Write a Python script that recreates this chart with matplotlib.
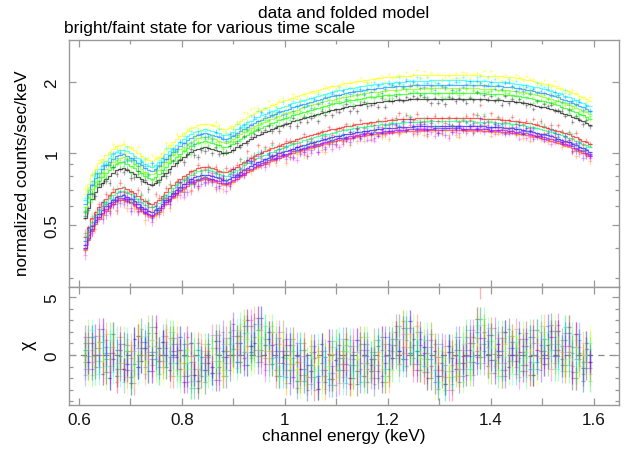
import numpy as np
import matplotlib
matplotlib.use('Agg')
import matplotlib.pyplot as plt
from matplotlib.ticker import FixedLocator, MultipleLocator, FuncFormatter, NullFormatter

plt.rcParams['font.family'] = ['Liberation Sans', 'DejaVu Sans']

# channel grid shared by all spectra (keV)
e_lo, e_hi, n_chan = 0.608, 1.596, 144

# folded model of the black spectrum, counts/sec/keV in each channel
model_ref = [
    0.535, 0.590, 0.642, 0.685, 0.720, 0.750, 0.778, 0.805, 0.830, 0.850, 0.864, 0.868,
    0.855, 0.838, 0.818, 0.798, 0.777, 0.757, 0.742, 0.738, 0.750, 0.770, 0.800, 0.830,
    0.858, 0.886, 0.912, 0.940, 0.965, 0.990, 1.012, 1.030, 1.045, 1.056, 1.060, 1.055,
    1.045, 1.034, 1.020, 1.005, 1.002, 1.015, 1.035, 1.060, 1.085, 1.108, 1.132, 1.153,
    1.173, 1.193, 1.211, 1.229, 1.247, 1.264, 1.282, 1.300, 1.316, 1.332, 1.347, 1.363,
    1.380, 1.396, 1.411, 1.425, 1.438, 1.452, 1.466, 1.480, 1.494, 1.507, 1.520, 1.532,
    1.543, 1.554, 1.565, 1.576, 1.586, 1.596, 1.605, 1.614, 1.623, 1.630, 1.637, 1.644,
    1.650, 1.656, 1.661, 1.666, 1.671, 1.675, 1.679, 1.683, 1.686, 1.689, 1.692, 1.694,
    1.696, 1.698, 1.699, 1.700, 1.700, 1.701, 1.701, 1.701, 1.701, 1.700, 1.700, 1.699,
    1.698, 1.697, 1.695, 1.693, 1.691, 1.688, 1.685, 1.682, 1.679, 1.676, 1.672, 1.667,
    1.662, 1.656, 1.649, 1.641, 1.632, 1.622, 1.611, 1.600, 1.588, 1.575, 1.562, 1.548,
    1.533, 1.518, 1.502, 1.485, 1.467, 1.448, 1.428, 1.407, 1.386, 1.365, 1.344, 1.322,
]

# spectra in plotting order, xspec colour index order
names = ['black', 'red', 'green', 'blue', 'cyan', 'magenta',
         'yellow', 'orange', 'chartreuse', 'springgreen', 'azure', 'blueviolet']
colors = [(0, 0, 0), (1, 0, 0), (0, 1, 0), (0, 0, 1), (0, 1, 1), (1, 0, 1),
          (1, 1, 0), (1, 0.5, 0), (0.5, 1, 0), (0, 1, 0.5), (0, 0.5, 1), (0.5, 0, 1)]
# normalisation of each spectrum relative to the black one
norm = [1.000, 0.830, 1.060, 0.769, 1.193, 0.739,
        1.260, 0.735, 1.108, 0.804, 1.145, 0.749]

# fractional error at 1 count/sec/keV
err_frac = 0.028

# mean residual, one value per 3 channels
chi_trend = [0.2, 0.3, -0.1, -0.4, -0.5, 0.3, 0.5, 0.3, 0.1, -0.4, -0.9, -1.0,
             -0.2, 0.1, 0.8, 1.1, 1.3, 0.6, 0.1, -0.5, -0.9, -1.1, -1.0, -0.7,
             -0.5, -0.6, -0.4, -0.6, -0.4, 0.6, 1.0, 0.6, -0.1, -1.0, -1.1, -0.4,
             0.2, 1.2, 0.4, 0.1, 0.3, 0.0, 0.2, 0.6, 0.7, 0.5, -0.1, -0.3]

# scatter of each spectrum about the mean residual, one hex digit per channel
chi_scatter = {
    'black': '537264418353624735145362 374625831546273458362714 463572514638247356184625 '
             '358241673452816374253647 641735287364153826473518 264753418365734528165374',
    'red': '624351746283351764428536 715342638457264175346283 382647153764528341673825 '
           '547163824536172458364271 2538463715246375d4281653 472536185743627415384265',
    'green': '461537284653718245637142 582463157384625317462853 345862714536283647152478 '
             '736425381647524163873542 418563246735817324563187 635274813426457381624537',
    'blue': '372548615273468532714365 246817534628371546825374 518364273815642573386241 '
            '463728145367283654718325 627413586342746185234671 354826472135863274517463',
    'cyan': '548316372645823157463528 631574826453148362574136 274853618247375164825367 '
            '852634217584637248153476 384527163748524673816245 716345238657412586347251',
    'magenta': '263748524163736285318547 457318263745852614735248 736125485372164538274613 '
               '124586357214845362637185 573264815436278351642738 548172364528137645283564',
    'yellow': '715463248537162843575318 328546714263587326143857 652384367158426375518462 '
              '473615842356718245362581 836172453728615437285316 327648561374285413762538',
    'orange': '456273835164274351863427 163748352876418253367542 827435268147553286731564 '
              '645173726385341572846213 218654738215463827514376 863527146382574268315742',
    'chartreuse': '384562157348625473281654 572136483625734158256371 135647826354417283653728 '
                  '267354518273462738514863 452817635241372586147352 174385627453816324573461',
    'springgreen': '627135463827514386742153 835264172538643725318462 563718342576182453476315 '
                   '316847254618735461287354 745326183657324718653824 436251734862541637825146',
    'azure': '145726538461347265183574 463852317645286537425613 728563451283674528347185 '
             '581463726358148536273641 364285472813583642471528 851437263548375162648375',
    'blueviolet': '736481254637418256537264 254671842365317842653187 481275635472836147152836 '
                  '734258461523657384428516 516738274685461253738452 243568715423648357286134',
}

edges = np.linspace(e_lo, e_hi, n_chan + 1)
cen = 0.5 * (edges[1:] + edges[:-1])
hw = 0.5 * np.diff(edges)
trend = np.repeat(chi_trend, 3)
model_ref = np.array(model_ref)

W, H = 626, 452
fig = plt.figure(figsize=(W / 100, H / 100), dpi=100)
x0, x1 = 69, 619
ax1 = fig.add_axes([x0 / W, 1 - 287.7 / H, (x1 - x0) / W, (287.7 - 41) / H])
ax2 = fig.add_axes([x0 / W, 1 - 406 / H, (x1 - x0) / W, (406 - 287.7) / H], sharex=ax1)

ax2.axhline(0, color='#888888', lw=0.9, ls=(0, (5, 4)), zorder=0)

for name, col, k in zip(names, colors, norm):
    digits = chi_scatter[name].replace(' ', '')
    chi = trend + (np.array([int(c, 16) for c in digits]) - 4.5) * 0.55
    mod = model_ref * k
    sig = err_frac * np.sqrt(mod)
    data = mod + chi * sig
    ax1.errorbar(cen, data, xerr=hw, yerr=sig, fmt='none', ecolor=col,
                 elinewidth=0.9, alpha=0.3, capsize=0)
    ax1.stairs(mod, edges, baseline=None, color=col, lw=0.9, alpha=0.65)
    ax2.errorbar(cen, chi, xerr=hw, yerr=1.0, fmt='none', ecolor=col,
                 elinewidth=0.9, alpha=0.3, capsize=0)

ax1.set_yscale('log')
ax1.set_ylim(0.275, 3.0)
ax1.set_xlim(0.5806, 1.649)
ax2.set_ylim(-4.33, 5.92)

fmt = FuncFormatter(lambda v, p: '%g' % v)
ax1.yaxis.set_major_locator(FixedLocator([0.5, 1, 2]))
ax1.yaxis.set_minor_locator(FixedLocator([0.3, 0.4, 0.6, 0.7, 0.8, 0.9]))
ax1.yaxis.set_major_formatter(fmt)
ax1.yaxis.set_minor_formatter(NullFormatter())
ax2.yaxis.set_major_locator(FixedLocator([0, 5]))
ax2.yaxis.set_minor_locator(MultipleLocator(1))
ax2.yaxis.set_major_formatter(fmt)
ax2.xaxis.set_major_locator(MultipleLocator(0.2))
ax2.xaxis.set_minor_locator(MultipleLocator(0.1))
ax2.xaxis.set_major_formatter(fmt)
plt.setp(ax1.get_xticklabels(), visible=False)

for ax in (ax1, ax2):
    for sp in ax.spines.values():
        sp.set_color('#999999')
        sp.set_linewidth(1.0)
    ax.tick_params(which='both', direction='in', top=True, right=True,
                   color='#999999', width=0.9, labelsize=12.3, labelcolor='#111111')
    ax.tick_params(which='major', length=5)
    ax.tick_params(which='minor', length=3)
    ax.tick_params(axis='y', labelrotation=90, pad=7)
    ax.tick_params(axis='x', pad=5)
ax2.tick_params(axis='x', which='minor', length=5)
for lab in ax1.get_yticklabels() + ax2.get_yticklabels():
    lab.set_va('center')

fig.text(344 / W, 1 - 18 / H, 'data and folded model', ha='center', va='baseline', fontsize=12.4)
fig.text(64 / W, 1 - 33 / H, 'bright/faint state for various time scale', ha='left',
         va='baseline', fontsize=12.4)
fig.text(344 / W, 1 - 441 / H, 'channel energy (keV)', ha='center', va='baseline', fontsize=12.3)
fig.text(22.5 / W, 1 - 173 / H, 'normalized counts/sec/keV', ha='center', va='center',
         rotation=90, fontsize=12.3)
fig.text(28 / W, 1 - 345 / H, 'χ', ha='center', va='center', rotation=90, fontsize=13)

fig.savefig('out.png', dpi=100)
